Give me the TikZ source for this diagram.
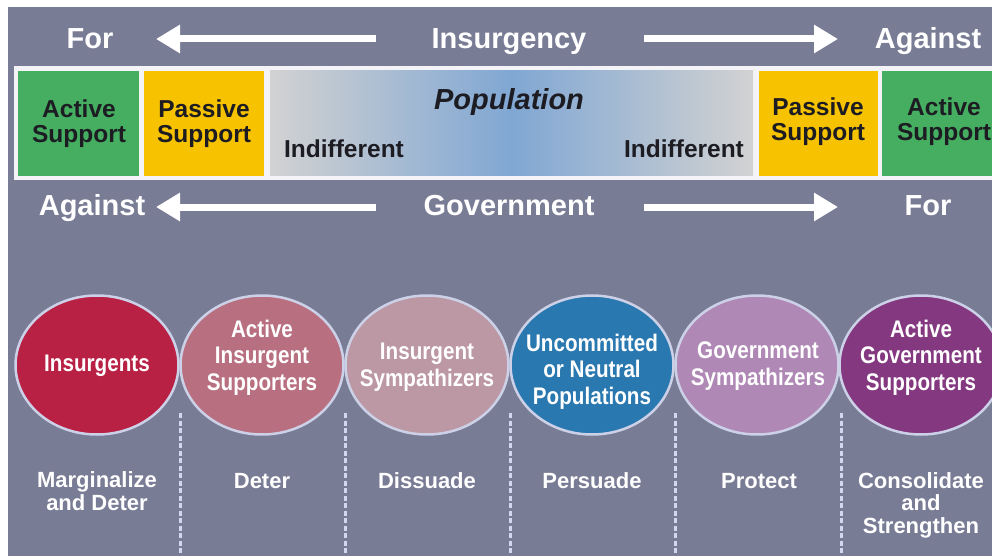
\documentclass[tikz,border=0pt]{standalone}
\usepackage{fontspec}
\setmainfont{Liberation Sans}
\newfontfamily\narrowf{Liberation Sans}[FakeStretch=0.86]
\usetikzlibrary{shapes.geometric,arrows.meta}
\definecolor{bg}{HTML}{797C95}
\definecolor{frameline}{HTML}{F4F4F8}
\definecolor{grn}{HTML}{45AE61}
\definecolor{yel}{HTML}{F7C300}
\definecolor{darktxt}{HTML}{1C1C22}
\definecolor{gradgray}{HTML}{D2D2D2}
\definecolor{gradblue}{HTML}{80A7D3}
\definecolor{ellline}{HTML}{CDD1E8}
\definecolor{dashc}{HTML}{D2D6EE}
\definecolor{cIns}{HTML}{B82044}
\definecolor{cAIS}{HTML}{B87080}
\definecolor{cIS}{HTML}{BC98A4}
\definecolor{cUN}{HTML}{2A78B0}
\definecolor{cGS}{HTML}{B088B6}
\definecolor{cAGS}{HTML}{843880}
\tikzset{
  toptxt/.style={text=white, font=\bfseries\fontsize{29}{31}\selectfont, anchor=base, inner sep=0pt},
  boxtxt/.style={text=darktxt, font=\bfseries\fontsize{24.5}{25}\selectfont, anchor=base, align=center, inner sep=0pt},
  bigarrow/.style={white, line width=7pt, -{Triangle[length=24pt,width=27pt]}},
  ell/.style={ellipse, draw=ellline, line width=2.5pt, minimum width=163pt, minimum height=139pt, inner sep=0pt},
  elltxt/.style={text=white, font=\narrowf\bfseries\fontsize{24}{26.5}\selectfont, anchor=base, align=center, inner sep=0pt},
  acttxt/.style={text=white, font=\bfseries\fontsize{22}{22.5}\selectfont, anchor=base, align=center, inner sep=0pt},
  sep/.style={dashc, line width=3pt, dash pattern=on 5pt off 2.5pt},
}
\begin{document}
\begin{tikzpicture}[x=1pt,y=-1pt]
\useasboundingbox (0,0) rectangle (992,556);
\clip (0,0) rectangle (992,556);
\fill[bg] (8,7) rectangle (992,556);

% top row
\node[toptxt] (for1) at (90,49) {For};
\node[toptxt] (insurgency) at (509,49) {Insurgency};
\node[toptxt] (against1) at (928,49) {Against};
\coordinate (a1s) at (376,39); \coordinate (a1e) at (156,39);
\coordinate (a2s) at (644,39); \coordinate (a2e) at (838,39);
\draw[bigarrow] (a1s) -- (a1e);
\draw[bigarrow] (a2s) -- (a2e);

% band
\fill[frameline] (14,66) rectangle (1000,180);
\fill[grn] (18,71) rectangle (139,176);
\fill[yel] (144,71) rectangle (264,176);
\shade[left color=gradgray, right color=gradgray, middle color=gradblue] (270,71) rectangle (753,176);
\fill[yel] (759,71) rectangle (878,176);
\fill[grn] (882,71) rectangle (1000,176);
\node[boxtxt] (as1) at (79,143) {Active\\Support};
\node[boxtxt] (ps1) at (204,143) {Passive\\Support};
\node[boxtxt, font=\bfseries\itshape\fontsize{29}{31}\selectfont] (pop) at (509,110) {Population};
\node[boxtxt] (ind1) at (344,158) {Indifferent};
\node[boxtxt] (ind2) at (684,158) {Indifferent};
\node[boxtxt] (ps2) at (818,141) {Passive\\Support};
\node[boxtxt] (as2) at (944,141) {Active\\Support};

% bottom row of band
\node[toptxt] (against2) at (92,215) {Against};
\node[toptxt] (government) at (509,215) {Government};
\node[toptxt] (for2) at (928,215) {For};
\coordinate (a3s) at (376,207); \coordinate (a3e) at (156,207);
\coordinate (a4s) at (644,207); \coordinate (a4e) at (838,207);
\draw[bigarrow] (a3s) -- (a3e);
\draw[bigarrow] (a4s) -- (a4e);

% separators
\foreach \i/\x in {1/180,2/345,3/510,4/675,5/841}{
  \coordinate (d\i t) at (\x,413); \coordinate (d\i b) at (\x,556);
  \draw[sep] (d\i t) -- (d\i b);
}

% ellipses
\node[ell, fill=cIns] (e1) at (97,365) {};
\node[ell, fill=cAIS] (e2) at (262,365) {};
\node[ell, fill=cIS] (e3) at (427,365) {};
\node[ell, fill=cUN] (e4) at (592,365) {};
\node[ell, fill=cGS] (e5) at (757,365) {};
\node[ell, fill=cAGS] (e6) at (921,365) {};
\node[elltxt] (t1) at (97,371) {Insurgents};
\node[elltxt] (t2) at (262,390) {Active\\Insurgent\\Supporters};
\node[elltxt] (t3) at (427,386) {Insurgent\\Sympathizers};
\node[elltxt] (t4) at (592,404) {Uncommitted\\or Neutral\\Populations};
\node[elltxt] (t5) at (758,385) {Government\\Sympathizers};
\node[elltxt] (t6) at (921,390) {Active\\Government\\Supporters};

% actions
\node[acttxt] (m1) at (97,510) {Marginalize\\and Deter};
\node[acttxt] (m2) at (262,488) {Deter};
\node[acttxt] (m3) at (427,488) {Dissuade};
\node[acttxt] (m4) at (592,488) {Persuade};
\node[acttxt] (m5) at (759,488) {Protect};
\node[acttxt] (m6) at (921,533) {Consolidate\\and\\Strengthen};
\end{tikzpicture}
\end{document}
